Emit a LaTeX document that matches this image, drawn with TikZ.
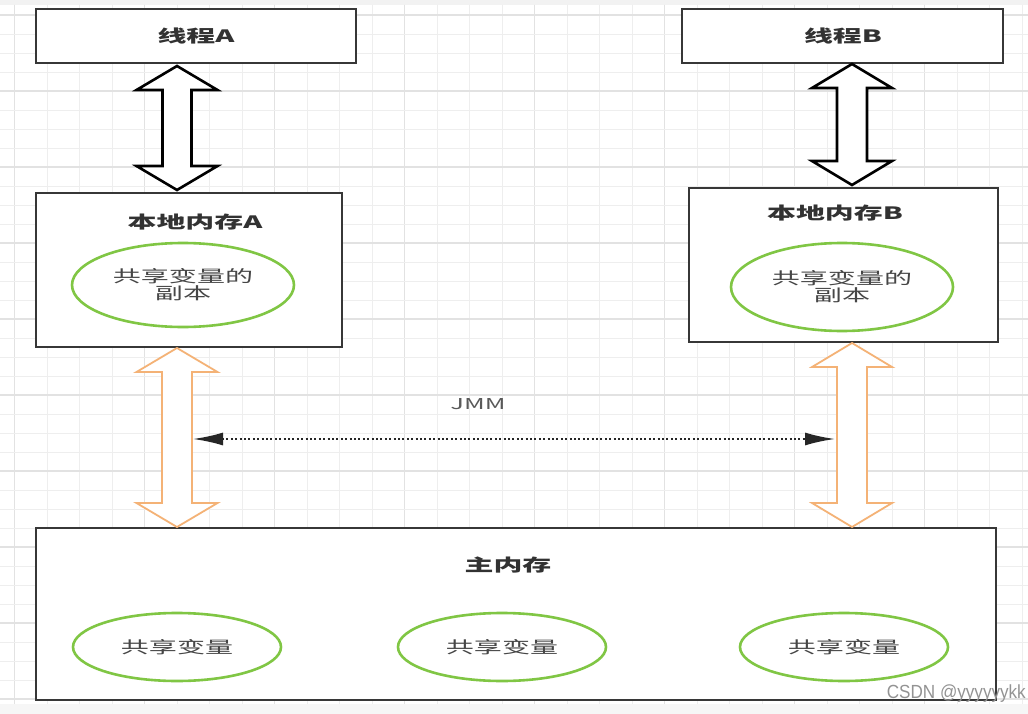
\documentclass[tikz,border=0pt]{standalone}
\usepackage{fontspec}
\setmainfont{Noto Sans CJK SC}[FakeStretch=1.7]
\newfontfamily\wmfont{Liberation Sans}[FakeStretch=0.9]
\usetikzlibrary{shapes.geometric,arrows.meta,calc}
\definecolor{boxline}{RGB}{55,55,55}
\definecolor{txt}{RGB}{50,50,50}
\definecolor{grn}{RGB}{128,198,68}
\definecolor{org}{RGB}{244,178,118}
\definecolor{gridc}{RGB}{238,238,238}
\definecolor{gridd}{RGB}{226,226,226}
\newcommand\fatarrow[5]{%
  \draw[#1] let \p1=(#2), \p2=(#3) in
    (\p1) -- (\x1+#5pt,\y1-24pt) -- (\x1+#4pt,\y1-24pt) -- (\x1+#4pt,\y2+24pt)
    -- (\x1+#5pt,\y2+24pt) -- (\p2) -- (\x1-#5pt,\y2+24pt) -- (\x1-#4pt,\y2+24pt)
    -- (\x1-#4pt,\y1-24pt) -- (\x1-#5pt,\y1-24pt) -- cycle;}
\begin{document}
\begin{tikzpicture}[x=1pt,y=-1pt,
  box/.style={draw=boxline,line width=2.6pt,fill=white,inner sep=0pt},
  title/.style={font=\bfseries\fontsize{17}{19}\selectfont,text=txt},
  vareli/.style={ellipse,draw=grn,line width=2.6pt,fill=white,inner sep=0pt,
    font=\fontsize{16.5}{19}\selectfont,text=txt!90,align=center},
  blackarrow/.style={draw=black,line width=2.6pt,fill=white,line join=miter},
  orangearrow/.style={draw=org,line width=1.8pt,fill=white,line join=miter},
  jmmline/.style={draw=black!85,line width=2pt,dash pattern=on 2pt off 2.4pt,
    {Latex[length=30pt,width=13pt]}-{Latex[length=30pt,width=13pt]}}]
\useasboundingbox (0,0) rectangle (1028,714);
\fill[white] (0,0) rectangle (1028,714);
\fill[gray!10] (0,0) rectangle (1028,5);
\fill[gray!7] (0,704) rectangle (1028,714);
% grid
\foreach \i in {0,...,31} {\draw[gridc,line width=0.8pt] ({14.5+32.5*\i},5) -- ({14.5+32.5*\i},704);}
\foreach \i in {0,...,7} {\draw[gridd,line width=1.2pt] ({14.5+130*\i},5) -- ({14.5+130*\i},704);}
\foreach \i in {0,...,36} {\draw[gridc,line width=0.8pt] (0,{15+19*\i}) -- (1028,{15+19*\i});}
\foreach \i in {0,...,9} {\draw[gridd,line width=1.2pt] (0,{15+76*\i}) -- (1028,{15+76*\i});}

% boxes
\node[box,minimum width=320pt,minimum height=54pt] (tA) at (196,36) {};
\node[title] at (196,36) {线程A};
\node[box,minimum width=321pt,minimum height=54pt] (tB) at (842.5,36) {};
\node[title] at (843,36) {线程B};
\node[box,minimum width=306pt,minimum height=154pt] (lA) at (189,270) {};
\node[title] (lAt) at (195,222) {本地内存A};
\node[box,minimum width=309pt,minimum height=154pt] (lB) at (843.5,265) {};
\node[title] (lBt) at (835,213) {本地内存B};
\node[box,minimum width=960pt,minimum height=172pt] (mm) at (516,614) {};
\node[title] (mmt) at (508,565) {主内存};

% ellipses
\node[vareli,minimum width=222pt,minimum height=84pt] (eA) at (183,285) {共享变量的\\[-2pt]副本};
\node[vareli,minimum width=222pt,minimum height=88pt] (eB) at (842,287) {共享变量的\\[-2pt]副本};
\node[vareli,minimum width=208pt,minimum height=68pt] (v1) at (177,647) {共享变量};
\node[vareli,minimum width=208pt,minimum height=68pt] (v2) at (502,647) {共享变量};
\node[vareli,minimum width=208pt,minimum height=68pt] (v3) at (844,647) {共享变量};

% fat arrows
\coordinate (a1t) at (177,66);  \coordinate (a1b) at (177,190);
\coordinate (b1t) at (852,64);  \coordinate (b1b) at (852,185);
\coordinate (a2t) at (177,348); \coordinate (a2b) at (177,527);
\coordinate (b2t) at (852,343); \coordinate (b2b) at (852,527);
\fatarrow{blackarrow}{a1t}{a1b}{14.5}{40.5}
\fatarrow{blackarrow}{b1t}{b1b}{15}{40}
\fatarrow{orangearrow}{a2t}{a2b}{15}{40.5}
\fatarrow{orangearrow}{b2t}{b2b}{15}{40}

% JMM
\coordinate (jA) at (193,439);
\coordinate (jB) at (835,439);
\draw[jmmline] (jA) -- (jB);
\node[font=\fontsize{15}{18}\selectfont,text=black!65] (jmm) at (478,404) {JMM};

% watermark
\node[font=\wmfont\fontsize{19}{21}\selectfont,text=gray!85,anchor=east,inner sep=0pt] (wm) at (1026,694) {CSDN @yyyyyykk};
\end{tikzpicture}
\end{document}
